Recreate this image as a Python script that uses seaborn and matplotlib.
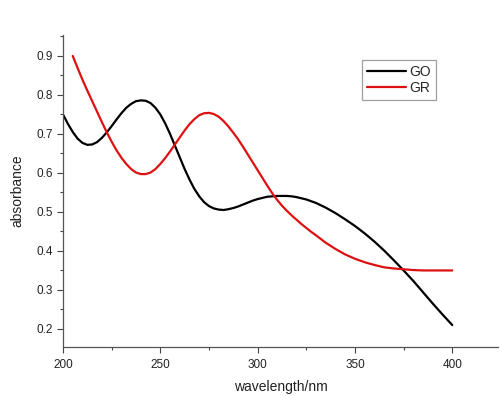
import matplotlib
matplotlib.use("Agg")
import matplotlib.pyplot as plt
import seaborn as sns
import pandas as pd
from matplotlib.ticker import MultipleLocator

go_x = [200, 202.5, 205, 207.5, 210, 212.5, 215, 217.5, 220, 222.5, 225, 227.5, 230,
        232.5, 235, 237.5, 240, 242.5, 245, 247.5, 250, 252.5, 255, 257.5, 260, 262.5,
        265, 267.5, 270, 272.5, 275, 277.5, 280, 282.5, 285, 287.5, 290, 292.5, 295,
        297.5, 300, 302.5, 305, 307.5, 310, 312.5, 315, 317.5, 320, 325, 330, 335, 340,
        345, 350, 355, 360, 365, 370, 375, 380, 385, 390, 395, 400]
go_y = [0.750, 0.726, 0.705, 0.688, 0.677, 0.672, 0.673, 0.679, 0.690, 0.704, 0.720,
        0.737, 0.753, 0.767, 0.777, 0.784, 0.786, 0.785, 0.779, 0.767, 0.750, 0.727,
        0.700, 0.670, 0.640, 0.610, 0.583, 0.559, 0.540, 0.525, 0.515, 0.509, 0.506,
        0.505, 0.507, 0.510, 0.514, 0.519, 0.524, 0.529, 0.533, 0.536, 0.539, 0.540,
        0.541, 0.541, 0.541, 0.540, 0.538, 0.532, 0.523, 0.511, 0.497, 0.481, 0.464,
        0.445, 0.424, 0.401, 0.376, 0.350, 0.323, 0.294, 0.265, 0.237, 0.210]

gr_x = [205, 207.5, 210, 212.5, 215, 217.5, 220, 222.5, 225, 227.5, 230, 232.5, 235,
        237.5, 240, 242.5, 245, 247.5, 250, 252.5, 255, 257.5, 260, 262.5, 265, 267.5,
        270, 272.5, 275, 277.5, 280, 282.5, 285, 287.5, 290, 292.5, 295, 297.5, 300,
        302.5, 305, 307.5, 310, 312.5, 315, 317.5, 320, 322.5, 325, 327.5, 330, 335,
        340, 345, 350, 355, 360, 365, 370, 375, 380, 385, 390, 395, 400]
gr_y = [0.900, 0.869, 0.839, 0.811, 0.784, 0.757, 0.730, 0.704, 0.680, 0.658, 0.639,
        0.623, 0.610, 0.601, 0.597, 0.597, 0.601, 0.610, 0.623, 0.638, 0.655, 0.673,
        0.691, 0.709, 0.725, 0.738, 0.748, 0.753, 0.754, 0.751, 0.744, 0.733, 0.719,
        0.703, 0.686, 0.667, 0.647, 0.627, 0.607, 0.587, 0.567, 0.548, 0.531, 0.516,
        0.503, 0.491, 0.480, 0.469, 0.459, 0.449, 0.440, 0.421, 0.405, 0.391, 0.380,
        0.371, 0.364, 0.358, 0.355, 0.353, 0.351, 0.350, 0.350, 0.350, 0.350]

series = ["GO", "GR"]
colors = {"GO": "#000000", "GR": "#dd1111"}
x_label = "wavelength/nm"
y_label = "absorbance"

df = pd.concat([
    pd.DataFrame({"wavelength": go_x, "absorbance": go_y, "sample": "GO"}),
    pd.DataFrame({"wavelength": gr_x, "absorbance": gr_y, "sample": "GR"}),
])

sns.set_style("ticks")
plt.rcParams["font.family"] = ["Liberation Sans", "DejaVu Sans"]

fig = plt.figure(figsize=(5.0, 3.96), dpi=100)
ax = fig.add_axes([0.126, 0.124, 0.87, 0.788])

sns.lineplot(data=df, x="wavelength", y="absorbance", hue="sample",
             hue_order=series, palette=colors, linewidth=1.6, ax=ax,
             legend=False, sort=False)
for ln in ax.get_lines():
    ln.set_solid_joinstyle("round")

ax.set_xlim(200, 423.5)
ax.set_ylim(0.154, 0.954)
ax.xaxis.set_major_locator(MultipleLocator(50))
ax.xaxis.set_minor_locator(MultipleLocator(25))
ax.yaxis.set_major_locator(MultipleLocator(0.1))
ax.yaxis.set_minor_locator(MultipleLocator(0.05))
ax.set_yticks([0.2, 0.3, 0.4, 0.5, 0.6, 0.7, 0.8, 0.9])
ax.set_yticklabels(["0.2", "0.3", "0.4", "0.5", "0.6", "0.7", "0.8", "0.9"])
ax.tick_params(axis="both", which="major", length=4, width=0.8, labelsize=8.5,
               color="#444444", labelcolor="#222222", direction="out")
ax.tick_params(axis="both", which="minor", length=2.5, width=0.8, color="#444444",
               direction="out")
ax.tick_params(axis="x", pad=5)
ax.tick_params(axis="y", pad=3)

for s in ["top", "right"]:
    ax.spines[s].set_visible(False)
for s in ["left", "bottom"]:
    ax.spines[s].set_linewidth(0.9)
    ax.spines[s].set_color("#555555")

ax.set_xlabel(x_label, fontsize=10, color="#222222", labelpad=6.5)
ax.set_ylabel(y_label, fontsize=10, color="#222222", labelpad=9)

handles = ax.get_lines()[:2]
leg = ax.legend(handles, series, loc="upper left", bbox_to_anchor=(0.687, 0.92),
                borderaxespad=0, frameon=True, fancybox=False, fontsize=10,
                handlelength=2.8, handletextpad=0.25, labelspacing=0.15,
                borderpad=0.35)
leg.get_frame().set_edgecolor("#888888")
leg.get_frame().set_linewidth(0.9)

fig.savefig("out.png", dpi=100)
